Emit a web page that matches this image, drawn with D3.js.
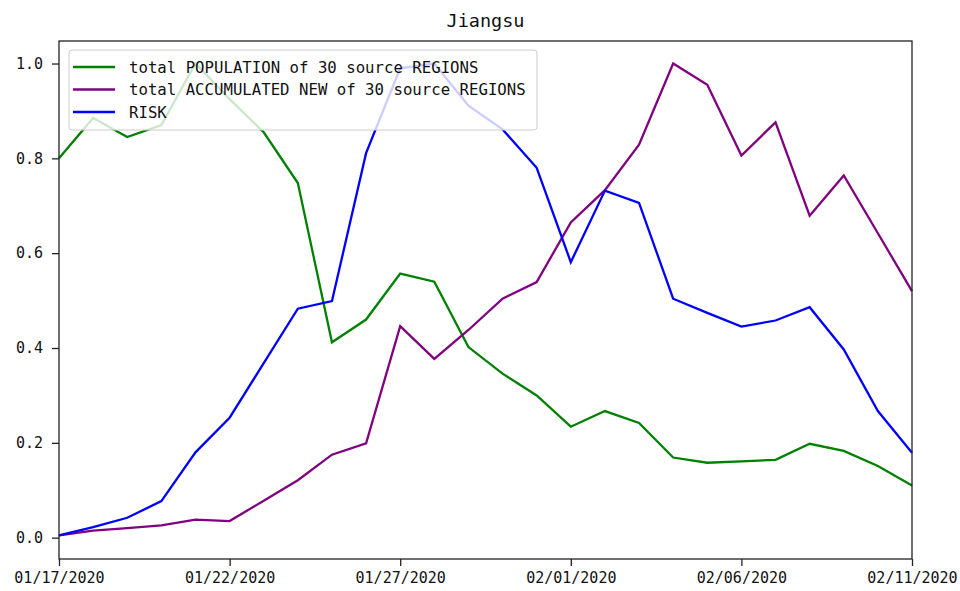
<!DOCTYPE html>
<html>
<head>
<meta charset="utf-8">
<script src="https://cdn.jsdelivr.net/npm/d3@7"></script>
<style>
  html, body { margin: 0; padding: 0; background: #fff; }
  svg { display: block; }
  text { font-family: "DejaVu Sans Mono", "Liberation Mono", monospace; fill: #111; }
</style>
</head>
<body>
<svg id="chart" width="960" height="591"></svg>
<script>
// Daily dates, 01/17/2020 .. 02/11/2020
const dates = [
  "2020-01-17","2020-01-18","2020-01-19","2020-01-20","2020-01-21","2020-01-22",
  "2020-01-23","2020-01-24","2020-01-25","2020-01-26","2020-01-27","2020-01-28",
  "2020-01-29","2020-01-30","2020-01-31","2020-02-01","2020-02-02","2020-02-03",
  "2020-02-04","2020-02-05","2020-02-06","2020-02-07","2020-02-08","2020-02-09",
  "2020-02-10","2020-02-11"
];

// Normalised series for Jiangsu
const population = [
  0.800, 0.885, 0.845, 0.870, 1.000, 0.925, 0.855, 0.748, 0.412, 0.460, 0.557, 0.540,
  0.402, 0.346, 0.300, 0.234, 0.267, 0.242, 0.169, 0.158, 0.161, 0.164, 0.198, 0.183,
  0.151, 0.110
];
const accumulatedNew = [
  0.005, 0.015, 0.020, 0.026, 0.038, 0.035, 0.078, 0.121, 0.175, 0.199, 0.446, 0.377,
  0.438, 0.504, 0.539, 0.665, 0.733, 0.829, 1.000, 0.955, 0.806, 0.876, 0.679, 0.764,
  0.642, 0.520
];
const risk = [
  0.005, 0.022, 0.042, 0.077, 0.180, 0.253, 0.368, 0.483, 0.499, 0.811, 0.990, 1.000,
  0.911, 0.861, 0.780, 0.581, 0.732, 0.706, 0.504, 0.474, 0.445, 0.458, 0.486, 0.397,
  0.267, 0.179
];

const seriesNames = [
  "total POPULATION of 30 source REGIONS",
  "total ACCUMULATED NEW of 30 source REGIONS",
  "RISK"
];
const seriesColors = ["green", "purple", "blue"];
const yTicks = [0.0, 0.2, 0.4, 0.6, 0.8, 1.0];
const xTickDates = ["2020-01-17","2020-01-22","2020-01-27","2020-02-01","2020-02-06","2020-02-11"];
const title = "Jiangsu";

const parse = d3.utcParse("%Y-%m-%d");
const fmt = d3.utcFormat("%m/%d/%Y");

const margin = { left: 59, right: 48, top: 41, bottom: 32 };
const W = 960, H = 591;
const svg = d3.select("#chart");

const x = d3.scaleUtc()
  .domain([parse(dates[0]), parse(dates[dates.length - 1])])
  .range([margin.left, W - margin.right]);
const y = d3.scaleLinear()
  .domain([-0.045, 1.0475])
  .range([H - margin.bottom, margin.top]);

const allSeries = [population, accumulatedNew, risk].map((vals, i) => ({
  name: seriesNames[i],
  color: seriesColors[i],
  points: vals.map((v, j) => ({ date: parse(dates[j]), value: v }))
}));

// Lines
const line = d3.line().x(d => x(d.date)).y(d => y(d.value));
svg.append("g")
  .selectAll("path")
  .data(allSeries)
  .join("path")
  .attr("fill", "none")
  .attr("stroke", d => d.color)
  .attr("stroke-width", 2.3)
  .attr("stroke-linejoin", "miter")
  .attr("d", d => line(d.points));

// Frame
svg.append("rect")
  .attr("x", margin.left).attr("y", margin.top)
  .attr("width", W - margin.left - margin.right)
  .attr("height", H - margin.top - margin.bottom)
  .attr("fill", "none").attr("stroke", "#222").attr("stroke-width", 1.3);

// Axes
const xAxis = d3.axisBottom(x)
  .tickValues(xTickDates.map(parse))
  .tickFormat(fmt)
  .tickSize(7).tickPadding(6);
const gx = svg.append("g")
  .attr("transform", `translate(0,${H - margin.bottom})`)
  .call(xAxis);
gx.select(".domain").remove();
gx.selectAll("line").attr("stroke", "#222").attr("stroke-width", 1.3);
gx.selectAll("text").attr("font-size", 15).attr("fill", "#111")
  .attr("font-family", "'DejaVu Sans Mono', monospace");

const yAxis = d3.axisLeft(y)
  .tickValues(yTicks)
  .tickFormat(d3.format(".1f"))
  .tickSize(7).tickPadding(9);
const gy = svg.append("g")
  .attr("transform", `translate(${margin.left},0)`)
  .call(yAxis);
gy.select(".domain").remove();
gy.selectAll("line").attr("stroke", "#222").attr("stroke-width", 1.3);
gy.selectAll("text").attr("font-size", 15).attr("fill", "#111")
  .attr("font-family", "'DejaVu Sans Mono', monospace");

// Title
svg.append("text")
  .attr("x", (margin.left + W - margin.right) / 2)
  .attr("y", 27)
  .attr("text-anchor", "middle")
  .attr("font-size", 18.5)
  .text(title);

// Legend
const lg = svg.append("g").attr("transform", "translate(69,50)");
lg.append("rect")
  .attr("width", 468).attr("height", 80)
  .attr("rx", 3).attr("ry", 3)
  .attr("fill", "white").attr("fill-opacity", 0.8)
  .attr("stroke", "#cccccc").attr("stroke-width", 1);
const rows = lg.selectAll("g.row")
  .data(allSeries)
  .join("g")
  .attr("class", "row")
  .attr("transform", (d, i) => `translate(0,${17 + i * 22.5})`);
rows.append("line")
  .attr("x1", 4).attr("x2", 46)
  .attr("stroke", d => d.color).attr("stroke-width", 2.3);
rows.append("text")
  .attr("x", 60).attr("dy", "0.35em")
  .attr("font-size", 15.7)
  .text(d => d.name);
</script>
</body>
</html>
